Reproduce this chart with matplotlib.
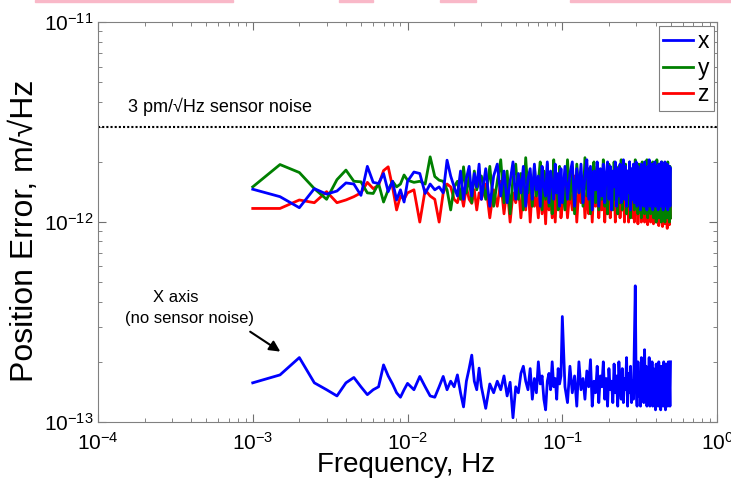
import numpy as np
import matplotlib.pyplot as plt
from matplotlib.patches import Rectangle

plt.rcParams["font.family"] = ["Liberation Sans", "DejaVu Sans"]
plt.rcParams["mathtext.fontset"] = "custom"
plt.rcParams["mathtext.rm"] = "Liberation Sans"
plt.rcParams["mathtext.it"] = "Liberation Sans"

# FFT bins in mHz (finer spacing at low frequency)
freq_mhz = np.concatenate([
    np.arange(1.0, 10.0, 0.5),
    np.arange(10, 30, 1),
    np.arange(30, 100, 2),
    np.arange(100, 501, 4),
])

# position error, pm/sqrt(Hz)
x_err = [
    1.46, 1.34, 1.18, 1.47, 1.38, 1.43, 1.57, 1.55, 1.36, 1.9, 1.58, 1.56, 1.75, 1.42, 1.6, 1.29, 1.45, 1.26,
    1.6, 1.78, 1.75, 1.39, 1.55, 1.45, 1.5, 1.4, 2.04, 1.7, 1.5, 1.35, 1.8, 1.3, 1.65, 1.9, 1.35, 1.75, 1.5, 1.95,
    1.3, 1.85, 1.2, 1.7, 1.95, 1.35, 1.8, 1.25, 1.6, 2.0, 1.3, 1.75, 1.4, 1.9, 1.2, 1.65, 1.85, 1.3, 1.95, 1.45,
    1.7, 1.2, 1.9, 1.5, 1.35, 2.0, 1.25, 1.8, 1.55, 1.3, 1.95, 1.4, 1.75, 1.2, 1.85,
    1.25, 1.9, 1.3, 1.75, 2.0, 1.2, 1.85, 1.4, 1.95, 1.25,
    1.7, 2.05, 1.3, 1.9, 1.15, 1.8, 1.45, 2.0, 1.2, 1.85,
    1.35, 1.95, 1.25, 1.75, 2.0, 1.3, 1.9, 1.15, 1.8, 1.5,
    2.0, 1.2, 1.85, 1.35, 1.95, 1.25, 1.7, 2.05, 1.3, 1.9,
    1.2, 1.8, 1.4, 2.0, 1.15, 1.85, 1.3, 1.95, 1.25, 1.75,
    2.0, 1.2, 1.9, 1.35, 1.8, 1.15, 1.95, 1.3, 1.85, 1.2,
    2.0, 1.4, 1.75, 1.15, 1.9, 1.3, 2.05, 1.2, 1.85, 1.35,
    1.95, 1.15, 1.8, 1.3, 2.0, 1.2, 1.9, 1.4, 1.75, 1.15,
    1.95, 1.3, 1.85, 1.2, 2.0, 1.35, 1.8, 1.15, 1.9, 1.25,
    2.0, 1.2, 1.85, 1.3, 1.95, 1.15, 1.8, 1.35, 1.9, 1.2,
    1.85,
]
y_err = [
    1.5, 1.94, 1.77, 1.47, 1.3, 1.63, 1.82, 1.6, 1.59, 1.4, 1.39, 1.56, 1.26, 1.45, 1.6, 1.5, 1.55, 1.72,
    1.62, 1.58, 1.6, 1.55, 2.12, 1.69, 1.62, 1.6, 1.45, 1.15, 1.5, 1.6, 1.3, 1.89, 1.4, 1.7, 1.25, 1.8, 1.45, 1.6,
    1.7, 1.3, 1.9, 1.2, 1.6, 2.05, 1.25, 1.8, 1.1, 1.65, 1.95, 1.3, 1.75, 1.15, 2.1, 1.4, 1.7, 1.2, 1.9, 1.35,
    1.6, 2.0, 1.15, 1.8, 1.3, 1.95, 1.2, 1.7, 1.1, 2.05, 1.4, 1.65, 1.15, 1.9, 1.3,
    1.6, 1.15, 2.05, 1.3, 1.8, 1.1, 1.95, 1.4, 1.7, 1.2,
    2.1, 1.35, 1.85, 1.1, 1.6, 2.0, 1.25, 1.9, 1.15, 1.75,
    1.3, 2.05, 1.2, 1.65, 1.1, 1.95, 1.4, 1.8, 1.15, 2.0,
    1.3, 1.7, 1.1, 1.9, 1.25, 2.05, 1.15, 1.75, 1.35, 1.95,
    1.1, 1.8, 1.2, 2.0, 1.05, 1.7, 1.3, 1.9, 1.15, 2.05,
    1.25, 1.85, 1.1, 1.95, 1.4, 1.75, 1.05, 2.0, 1.2, 1.8,
    1.1, 1.9, 1.3, 2.05, 1.05, 1.7, 1.2, 1.95, 1.1, 1.85,
    1.35, 2.0, 1.05, 1.75, 1.2, 1.9, 1.0, 2.05, 1.15, 1.8,
    1.05, 1.95, 1.25, 1.85, 1.0, 2.0, 1.1, 1.75, 1.3, 1.9,
    1.0, 1.95, 1.15, 1.8, 1.05, 2.0, 1.2, 1.85, 1.0, 1.9,
    1.05,
]
z_err = [
    1.17, 1.17, 1.29, 1.25, 1.42, 1.25, 1.29, 1.34, 1.4, 1.58, 1.47, 1.53, 1.81, 1.89, 1.5, 1.15, 1.35, 1.3,
    1.4, 1.45, 1.0, 1.45, 1.35, 1.3, 1.0, 1.4, 1.55, 1.5, 1.3, 1.25, 1.45, 1.2, 1.5, 1.3, 1.24, 1.45, 1.15, 1.4,
    1.3, 1.55, 1.05, 1.45, 1.2, 1.6, 1.1, 1.5, 1.0, 1.4, 1.25, 1.55, 1.05, 1.45, 1.15, 1.6, 1.0, 1.5, 1.2, 1.35,
    1.05, 1.55, 1.1, 1.45, 0.98, 1.6, 1.15, 1.4, 1.05, 1.5, 1.0, 1.55, 1.2, 1.45, 1.05,
    1.2, 1.6, 1.05, 1.45, 1.15, 1.7, 1.0, 1.5, 1.25, 1.65,
    1.05, 1.4, 1.1, 1.75, 1.0, 1.55, 1.2, 1.6, 1.05, 1.45,
    1.15, 1.7, 1.0, 1.5, 1.1, 1.65, 1.05, 1.4, 1.2, 1.6,
    1.0, 1.55, 1.1, 1.7, 1.05, 1.45, 1.15, 1.6, 1.0, 1.5,
    1.1, 1.65, 1.0, 1.45, 1.2, 1.6, 1.05, 1.7, 1.0, 1.5,
    1.1, 1.55, 0.98, 1.6, 1.15, 1.45, 1.0, 1.65, 1.05, 1.5,
    1.0, 1.6, 1.1, 1.45, 0.97, 1.7, 1.05, 1.5, 1.0, 1.55,
    1.1, 1.6, 0.98, 1.45, 1.05, 1.65, 1.0, 1.5, 1.1, 1.6,
    0.96, 1.55, 1.05, 1.45, 1.0, 1.6, 0.95, 1.5, 1.05, 1.65,
    0.98, 1.45, 1.0, 1.55, 0.93, 1.6, 1.05, 1.5, 0.97, 1.45,
    1.05,
]
# X axis without sensor noise
x_nonoise = [
    0.157, 0.172, 0.21, 0.157, 0.145, 0.135, 0.157, 0.167, 0.15, 0.137, 0.145, 0.15, 0.193, 0.17, 0.155, 0.14, 0.133, 0.145,
    0.156, 0.145, 0.169, 0.15, 0.135, 0.133, 0.15, 0.169, 0.145, 0.16, 0.15, 0.172, 0.14, 0.119, 0.16, 0.185, 0.216, 0.16, 0.145, 0.186,
    0.15, 0.117, 0.155, 0.14, 0.16, 0.145, 0.17, 0.135, 0.158, 0.105, 0.15, 0.14, 0.175, 0.19, 0.16, 0.145, 0.185, 0.13,
    0.165, 0.14, 0.2, 0.155, 0.17, 0.13, 0.115, 0.16, 0.175, 0.145, 0.2, 0.15, 0.165, 0.13, 0.185, 0.155, 0.17,
    0.337, 0.15, 0.125, 0.19, 0.14, 0.17, 0.12, 0.2, 0.145, 0.165,
    0.13, 0.18, 0.15, 0.205, 0.12, 0.16, 0.14, 0.19, 0.125, 0.17,
    0.15, 0.2, 0.13, 0.165, 0.12, 0.185, 0.145, 0.16, 0.125, 0.195,
    0.14, 0.17, 0.12, 0.2, 0.15, 0.13, 0.185, 0.125, 0.165, 0.145,
    0.21, 0.12, 0.175, 0.14, 0.19, 0.125, 0.16, 0.13, 0.252, 0.48,
    0.15, 0.12, 0.2, 0.135, 0.17, 0.12, 0.21, 0.14, 0.18, 0.125,
    0.23, 0.13, 0.19, 0.12, 0.175, 0.145, 0.21, 0.12, 0.165, 0.13,
    0.2, 0.12, 0.185, 0.14, 0.17, 0.115, 0.195, 0.13, 0.16, 0.12,
    0.2, 0.135, 0.175, 0.115, 0.19, 0.14, 0.165, 0.12, 0.2, 0.13,
    0.18, 0.115, 0.195, 0.14, 0.17, 0.12, 0.2, 0.125, 0.165, 0.12,
    0.2,
]
sensor_noise = 3e-12

freq = freq_mhz * 1e-3
pm = 1e-12

fig = plt.figure(figsize=(7.31, 4.82), dpi=100)
ax = fig.add_axes([0.134, 0.1245, 0.847, 0.8295])

lz, = ax.loglog(freq, np.array(z_err) * pm, color="#ff0000", lw=2)
ly, = ax.loglog(freq, np.array(y_err) * pm, color="#008000", lw=2)
lx, = ax.loglog(freq, np.array(x_err) * pm, color="#0000ff", lw=2)
ax.loglog(freq, np.array(x_nonoise) * pm, color="#0000ff", lw=2)
ax.axhline(sensor_noise, color="black", ls=(0, (1, 1)), lw=1.5)

ax.set_xlim(1e-4, 1)
ax.set_ylim(1e-13, 1e-11)

ax.text(1.56e-4, 3.76e-12, "3 pm/\u221aHz sensor noise", fontsize=13, va="center", ha="left")
ax.text(3.18e-4, 4.2e-13, "X axis", fontsize=12, ha="center", va="center")
ax.text(3.93e-4, 3.31e-13, "(no sensor noise)", fontsize=12, ha="center", va="center")
ax.annotate("", xy=(1.56e-3, 2.21e-13), xytext=(9.3e-4, 2.88e-13),
            arrowprops=dict(arrowstyle="-|>", color="black", lw=1.5, mutation_scale=16))

ax.set_xlabel("Frequency, Hz", fontsize=20)
ax.set_ylabel("Position Error, m/\u221aHz", fontsize=23)
ax.xaxis.set_label_coords(0.497, -0.074)
ax.yaxis.set_label_coords(-0.094, 0.477)

ax.tick_params(which="both", direction="in", top=True, right=True, colors="#707070",
               labelcolor="black", labelsize=15)
ax.tick_params(which="major", length=6)
ax.tick_params(which="minor", length=3)
ax.tick_params(axis="x", pad=7)
ax.tick_params(axis="y", pad=3)
for s in ax.spines.values():
    s.set_color("#808080")

leg = ax.legend([lx, ly, lz], ["x", "y", "z"], loc="upper right", fontsize=16.5,
                fancybox=False, edgecolor="#808080", framealpha=1, handlelength=1.3,
                handletextpad=0.2, borderpad=0.2, labelspacing=0.15,
                borderaxespad=0.15)
leg.get_frame().set_linewidth(0.8)

# pink strips cropped from the slide above
for x0, x1 in [(35, 233), (339, 373), (440, 476), (570, 731)]:
    fig.patches.append(Rectangle((x0 / 731, 1 - 2 / 482), (x1 - x0) / 731, 2 / 482,
                                 transform=fig.transFigure, color="#f9b8c8", zorder=0))

fig.savefig("out.png", dpi=100)
